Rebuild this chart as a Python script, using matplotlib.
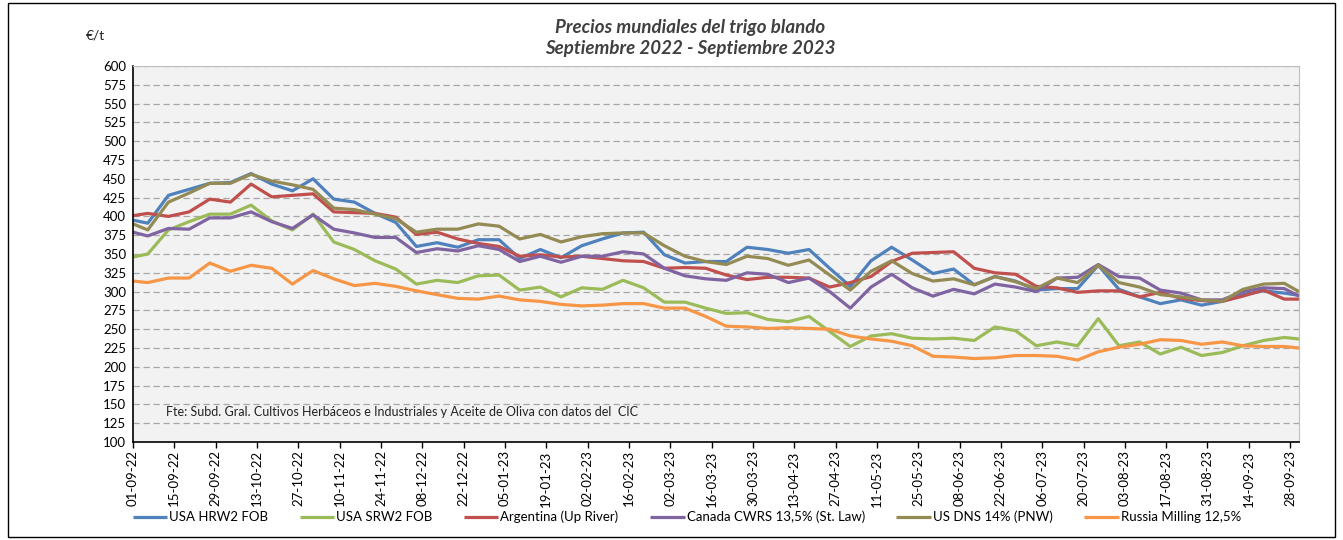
import matplotlib
matplotlib.use("Agg")
import matplotlib.pyplot as plt
import matplotlib.dates as mdates
from matplotlib.patches import Rectangle
import pandas as pd

plt.rcParams['font.family'] = ['Lato', 'DejaVu Sans']

# weekly quotations (first point 01-09-22, then Tuesdays, last 01-10-23)
dates = ([pd.Timestamp("2022-09-01")]
         + list(pd.date_range("2022-09-06", periods=56, freq="7D"))
         + [pd.Timestamp("2023-10-01")])

usa_hrw2 = [395, 391, 428, 436, 444, 445, 457, 443, 434, 450, 423, 419, 404, 392,
            360, 365, 359, 369, 369, 344, 356, 345, 361, 370, 378, 379, 349, 338,
            340, 340, 359, 356, 351, 356, 331, 307, 341, 359, 342, 324, 330, 309,
            320, 314, 302, 304, 304, 335, 303, 293, 284, 289, 282, 287, 296, 301,
            298, 295]
usa_srw2 = [346, 350, 382, 393, 403, 403, 415, 394, 382, 403, 366, 356, 341, 330,
            310, 315, 312, 321, 322, 302, 306, 293, 305, 303, 315, 305, 286, 286,
            278, 271, 272, 263, 260, 267, 247, 227, 241, 244, 238, 237, 238, 235,
            253, 248, 228, 233, 228, 264, 228, 233, 217, 226, 215, 219, 228, 235,
            239, 237]
argentina = [401, 404, 400, 406, 423, 419, 443, 426, 428, 430, 406, 405, 404, 399,
             376, 379, 370, 364, 360, 347, 349, 346, 347, 344, 341, 340, 331, 332,
             331, 322, 316, 319, 319, 318, 306, 312, 320, 340, 351, 352, 353, 331,
             325, 323, 307, 305, 299, 301, 301, 293, 299, 291, 288, 287, 294, 302,
             290, 290]
canada = [379, 374, 384, 383, 398, 398, 406, 393, 384, 402, 383, 378, 372, 372,
          352, 357, 354, 361, 356, 340, 347, 339, 347, 347, 353, 350, 331, 321,
          317, 315, 325, 323, 312, 318, 300, 278, 306, 323, 305, 294, 303, 297,
          310, 306, 300, 318, 319, 336, 320, 318, 302, 298, 289, 289, 300, 305,
          304, 294]
us_dns = [390, 382, 419, 431, 444, 444, 456, 447, 442, 436, 411, 409, 403, 397,
          379, 383, 383, 390, 387, 370, 376, 366, 373, 377, 378, 378, 361, 347,
          340, 336, 347, 344, 335, 342, 322, 302, 327, 341, 324, 314, 317, 309,
          320, 313, 304, 318, 312, 335, 312, 306, 296, 293, 289, 287, 303, 310,
          311, 300]
russia = [314, 312, 318, 318, 338, 327, 335, 331, 310, 328, 317, 308, 311, 307,
          301, 296, 291, 290, 294, 289, 287, 283, 281, 282, 284, 284, 278, 278,
          267, 254, 253, 251, 252, 251, 250, 241, 237, 234, 228, 214, 213, 211,
          212, 215, 215, 214, 209, 220, 226, 230, 236, 235, 230, 233, 228, 227,
          227, 225]

series = [
    ("USA HRW2 FOB", usa_hrw2, '#4F81BD'),
    ("USA SRW2 FOB", usa_srw2, '#9BBB59'),
    ("Argentina (Up River)", argentina, '#C0504D'),
    ("Canada CWRS 13,5% (St. Law)", canada, '#8064A2'),
    ("US DNS 14% (PNW)", us_dns, '#948A54'),
    ("Russia Milling 12,5%", russia, '#F79646'),
]

fig = plt.figure(figsize=(13.43, 5.40), dpi=100)
ax = fig.add_axes([133 / 1343, 1 - 442 / 540, 1166 / 1343, 376 / 540])
ax.set_facecolor('#F2F2F2')

for name, vals, col in series:
    ax.plot(dates, vals, color=col, linewidth=2.3, label=name,
            solid_joinstyle='round', solid_capstyle='butt')

ax.set_ylim(100, 600)
ax.set_yticks(range(100, 601, 25))
ax.yaxis.grid(True, color='#A6A6A6', linestyle=(0, (5, 3)), linewidth=0.9)
ax.set_axisbelow(True)
ax.tick_params(axis='y', length=0, labelsize=9.5, pad=5)

ax.set_xlim(pd.Timestamp("2022-09-01"), pd.Timestamp("2023-10-01"))
ax.set_xticks(pd.date_range("2022-09-01", "2023-09-28", freq="14D"))
ax.xaxis.set_major_formatter(mdates.DateFormatter('%d-%m-%y'))
ax.tick_params(axis='x', length=4, width=1, labelsize=9.5, rotation=90, pad=2)

for s in ('top', 'right'):
    ax.spines[s].set_color('#BFBFBF')
for s in ('left', 'bottom'):
    ax.spines[s].set_color('black')
    ax.spines[s].set_linewidth(1.2)

ax.text(0.028, 140, "Fte: Subd. Gral. Cultivos Herbáceos e Industriales y Aceite de Oliva con datos del  CIC",
        transform=ax.get_yaxis_transform(), fontsize=9, va='center', color='#222222')

fig.text(0.514, 0.950, "Precios mundiales del trigo blando", ha='center', va='center',
         fontsize=13.5, fontweight='bold', fontstyle='italic', color='#404040')
fig.text(0.514, 0.910, "Septiembre 2022 - Septiembre 2023", ha='center', va='center',
         fontsize=13.5, fontweight='bold', fontstyle='italic', color='#404040')
fig.text(95 / 1343, 0.935, "€/t", ha='center', va='center', fontsize=10, color='#222222')

fig.legend(loc='center left', bbox_to_anchor=(133 / 1343, 1 - 517 / 540), ncol=6,
           frameon=False, fontsize=9.5, handlelength=2.6, handletextpad=0.15,
           columnspacing=2.4, borderpad=0, borderaxespad=0)

fig.add_artist(Rectangle((8 / 1343, 3 / 540), 1327 / 1343, 534 / 540,
                         transform=fig.transFigure, fill=False,
                         edgecolor='black', linewidth=1))

fig.savefig("out.png", dpi=100)
